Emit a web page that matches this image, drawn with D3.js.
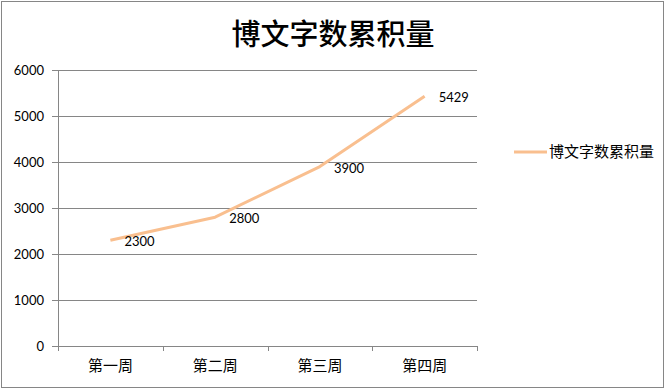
<!DOCTYPE html>
<html>
<head>
<meta charset="utf-8">
<script src="https://cdn.jsdelivr.net/npm/d3@7"></script>
<style>
  body { margin: 0; background: #fff; }
  svg text { font-family: "Noto Sans CJK SC", sans-serif; }
</style>
</head>
<body>
<div id="chart"></div>
<script>
const categories = ['第一周', '第二周', '第三周', '第四周'];
const seriesName = '博文字数累积量';
const values = [2300, 2800, 3900, 5429];
const yTicks = [0, 1000, 2000, 3000, 4000, 5000, 6000];

const width = 666, height = 390;
const margin = { top: 70, right: 189, bottom: 44, left: 58 };

const svg = d3.select('#chart')
    .append('svg')
    .attr('width', width)
    .attr('height', height);

// outer frame
svg.append('rect')
    .attr('x', 1.5).attr('y', 1.5)
    .attr('width', width - 4).attr('height', height - 4)
    .attr('fill', '#fff')
    .attr('stroke', '#868686');

const x = d3.scaleBand()
    .domain(categories)
    .range([margin.left, width - margin.right]);

const y = d3.scaleLinear()
    .domain([0, 6000])
    .range([height - margin.bottom, margin.top]);

const grey = '#868686';

// gridlines + y ticks
const yAxis = svg.append('g')
    .attr('transform', `translate(${margin.left},0)`)
    .call(d3.axisLeft(y).tickValues(yTicks).tickSize(6).tickPadding(8)
        .tickFormat(d3.format('d')));
yAxis.select('.domain').attr('stroke', grey);
yAxis.selectAll('.tick line').attr('stroke', grey);
yAxis.selectAll('.tick text')
    .attr('fill', '#000')
    .style('font-family', 'Lato, "Open Sans", sans-serif')
    .style('font-size', '13px');

svg.append('g')
    .selectAll('line')
    .data(yTicks.filter(d => d > 0))
    .join('line')
    .attr('x1', margin.left)
    .attr('x2', width - margin.right)
    .attr('y1', d => Math.round(y(d)) + 0.5)
    .attr('y2', d => Math.round(y(d)) + 0.5)
    .attr('stroke', grey);

// x axis
const xAxis = svg.append('g')
    .attr('transform', `translate(0,${height - margin.bottom})`)
    .call(d3.axisBottom(x).tickSize(0).tickPadding(14));
xAxis.select('.domain').attr('stroke', grey);
xAxis.selectAll('.tick text')
    .attr('fill', '#000')
    .style('font-size', '15px');

// category boundary ticks
svg.append('g')
    .selectAll('line')
    .data(categories.map(c => x(c)).concat([x(categories[categories.length - 1]) + x.bandwidth()]))
    .join('line')
    .attr('x1', d => Math.round(d) + 0.5)
    .attr('x2', d => Math.round(d) + 0.5)
    .attr('y1', height - margin.bottom)
    .attr('y2', height - margin.bottom + 5)
    .attr('stroke', grey);

// series line
const lineColor = '#F9BF8F';
const pts = categories.map((c, i) => ({ c, v: values[i] }));

svg.append('path')
    .datum(pts)
    .attr('fill', 'none')
    .attr('stroke', lineColor)
    .attr('stroke-width', 3)
    .attr('stroke-linejoin', 'round')
    .attr('d', d3.line()
        .x(d => x(d.c) + x.bandwidth() / 2)
        .y(d => y(d.v)));

// data labels
svg.append('g')
    .selectAll('text')
    .data(pts)
    .join('text')
    .attr('x', d => x(d.c) + x.bandwidth() / 2 + 14)
    .attr('y', d => y(d.v) + 6)
    .style('font-family', 'Lato, "Open Sans", sans-serif')
    .style('font-size', '13px')
    .attr('fill', '#000')
    .text(d => d.v);

// title
svg.append('text')
    .attr('x', 333)
    .attr('y', 45)
    .attr('text-anchor', 'middle')
    .style('font-size', '29px')
    .style('font-weight', '500')
    .attr('fill', '#000')
    .text(seriesName);

// legend
const legend = svg.append('g').attr('transform', 'translate(514,152)');
legend.append('line')
    .attr('x1', 0).attr('x2', 33)
    .attr('stroke', lineColor)
    .attr('stroke-width', 3);
legend.append('text')
    .attr('x', 35)
    .attr('y', 5)
    .style('font-size', '15px')
    .attr('fill', '#000')
    .text(seriesName);
</script>
</body>
</html>
